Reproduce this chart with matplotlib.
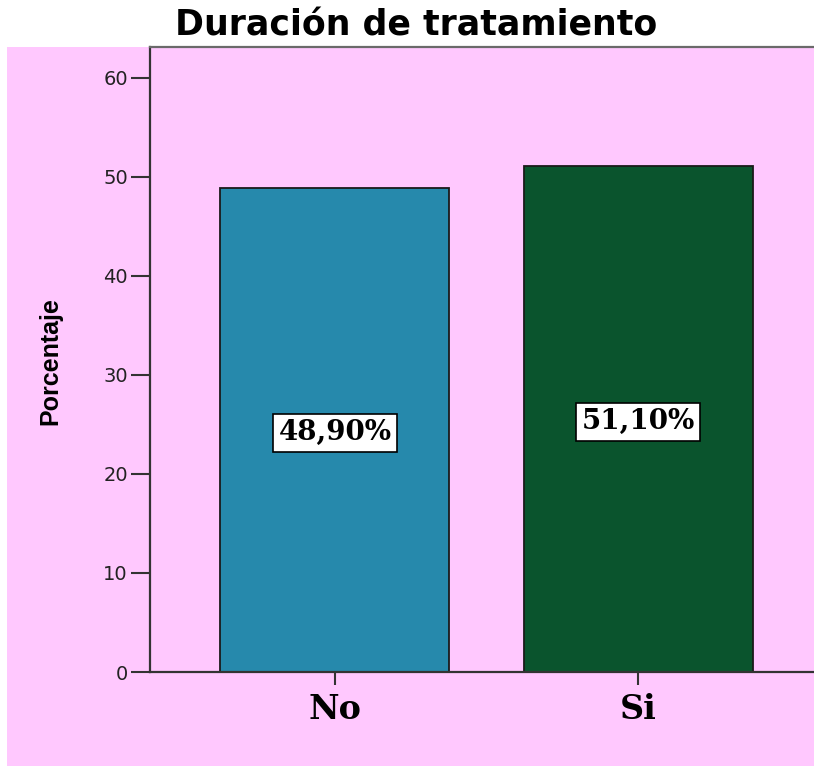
import matplotlib
matplotlib.use("Agg")
import matplotlib.pyplot as plt
from matplotlib.patches import Rectangle

categories = ["No", "Si"]
values = [48.9, 51.1]
labels = ["48,90%", "51,10%"]
colors = ["#2689AC", "#0A542D"]
yticks = [0, 10, 20, 30, 40, 50, 60]

W, H = 814, 766
fig = plt.figure(figsize=(W / 100, H / 100), dpi=100)
fig.patch.set_facecolor("white")
pink = "#FFC8FE"
bg = Rectangle((7 / W, 0), 1 - 7 / W, (H - 47) / H,
               transform=fig.transFigure, facecolor=pink,
               edgecolor="none", zorder=-5)
fig.add_artist(bg)

ax = fig.add_axes([150 / W, (H - 672) / H, (W - 150) / W, (672 - 47) / H])
ax.set_zorder(1)
ax.set_facecolor(pink)

x = list(range(len(categories)))
bars = ax.bar(x, values, width=0.755, color=colors, edgecolor="#1a1a1a",
              linewidth=1.3, zorder=2)

for xi, v, lab in zip(x, values, labels):
    ax.text(xi, v / 2 - 0.3, lab, ha="center", va="center", fontsize=20,
            fontweight="bold", family="DejaVu Serif", zorder=3,
            bbox=dict(boxstyle="square,pad=0.2", facecolor="white",
                      edgecolor="black", linewidth=1.2))

ax.set_xlim(-0.61, 1.58)
ax.set_ylim(0, 63.1)
ax.set_xticks(x)
ax.set_xticklabels(categories, fontsize=24, fontweight="bold",
                   family="DejaVu Serif")
ax.set_yticks(yticks)
ax.set_yticklabels([str(t) for t in yticks], fontsize=14,
                   family="DejaVu Sans", color="#222222")
ax.tick_params(axis="y", length=14, width=1.5, color="#333333", pad=2)
ax.tick_params(axis="x", length=9, width=1.5, color="#333333", pad=6)

for s in ["left", "bottom", "top"]:
    ax.spines[s].set_linewidth(1.6)
    ax.spines[s].set_color("#333333")
ax.spines["top"].set_color("#6a6a6a")
ax.spines["right"].set_visible(False)

ax.set_ylabel("Porcentaje", fontsize=18, fontweight="bold",
              family=["Liberation Sans Narrow", "Liberation Sans", "DejaVu Sans"])
ax.yaxis.set_label_coords((62 - 150) / (W - 150), 0.497)

fig.text(416 / W, 1 - 26 / H, "Duración de tratamiento", ha="center",
         va="center", fontsize=25, fontweight="bold", family="DejaVu Sans")

fig.savefig("out.png", dpi=100, facecolor=fig.get_facecolor())
